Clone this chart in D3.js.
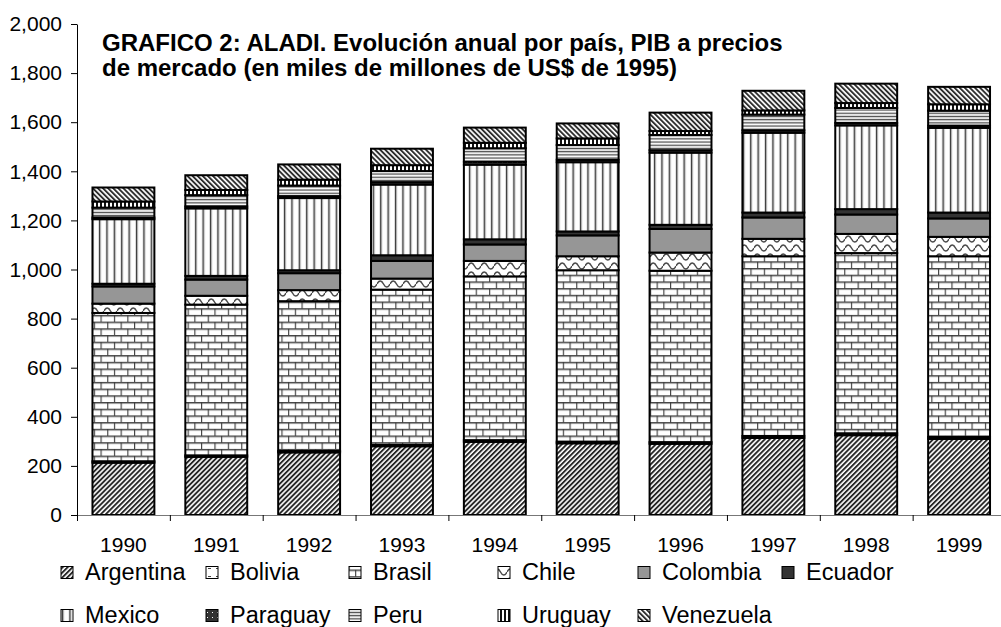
<!DOCTYPE html>
<html><head><meta charset="utf-8">
<script src="https://cdn.jsdelivr.net/npm/d3@7"></script>
<style>
body{margin:0;background:#fff}
svg{display:block}
text{font-family:"Liberation Sans",Arial,sans-serif;fill:#000}
</style>
</head><body>
<svg id="c" width="1001" height="627"></svg>
<script>
// ---------- DATA (miles de millones de US$ de 1995) ----------
const years      = ["1990","1991","1992","1993","1994","1995","1996","1997","1998","1999"];
const argentina  = [213, 237, 255, 280, 298, 292, 290, 314, 325, 310];
const bolivia    = [6, 6, 6, 6, 7, 7, 7, 8, 8, 8];
const brasil     = [604, 614, 610, 632, 667, 698, 698, 732, 734, 736];
const chile      = [38, 36, 45, 45, 63, 57, 74, 71, 78, 79];
const colombia   = [70, 66, 69, 72, 67, 85, 96, 87, 79, 75];
const ecuador    = [11, 15, 12, 23, 21, 16, 17, 20, 22, 24];
const mexico     = [263, 275, 294, 288, 304, 282, 294, 325, 341, 345];
const paraguay   = [7, 8, 8, 10, 12, 10, 10, 10, 10, 9];
const peru       = [40, 46, 43, 45, 55, 60, 62, 64, 61, 61];
const uruguay    = [25, 21, 24, 24, 22, 27, 16, 17, 20, 26];
const venezuela  = [57, 60, 62, 67, 62, 61, 75, 80, 79, 71];
const seriesNames = ["Argentina","Bolivia","Brasil","Chile","Colombia","Ecuador","Mexico","Paraguay","Peru","Uruguay","Venezuela"];
const seriesValues = [argentina, bolivia, brasil, chile, colombia, ecuador, mexico, paraguay, peru, uruguay, venezuela];
const yTicks = [0,200,400,600,800,1000,1200,1400,1600,1800,2000];
const titleLines = ["GRAFICO 2: ALADI. Evolución anual por país, PIB a precios",
                    "de mercado (en miles de millones de US$ de 1995)"];

// ---------- LAYOUT ----------
const svg = d3.select("#c");
const X0 = 77, X1 = 1005.5, Y0 = 515, Y1 = 24;
const x = d3.scaleBand().domain(years).range([X0, X1]).paddingInner(1/3).paddingOuter(1/6);
const y = d3.scaleLinear().domain([0, 2000]).range([Y0, Y1]);

// ---------- PATTERNS ----------
const defs = svg.append("defs");
function pat(id, w, h, transform) {
  const p = defs.append("pattern").attr("id", id)
    .attr("patternUnits", "userSpaceOnUse").attr("width", w).attr("height", h);
  if (transform) p.attr("patternTransform", transform);
  return p;
}
// Argentina: "/" hatch
{ const p = pat("p0", 3.5, 10, "rotate(45)");
  p.append("rect").attr("width",3.5).attr("height",10).attr("fill","#fff");
  p.append("rect").attr("width",1.9).attr("height",10).attr("fill","#262626"); }
// Bolivia: white with sparse marks
{ const p = pat("p1", 8, 8);
  p.append("rect").attr("width",8).attr("height",8).attr("fill","#fff");
  p.append("rect").attr("x",0).attr("y",0).attr("width",3).attr("height",1).attr("fill","#444"); }
// Brasil: bricks
{ const w = 13.4, h = 13.4, p = pat("p2", w, h);
  p.append("rect").attr("width",w).attr("height",h).attr("fill","#fff");
  const g = p.append("g").attr("fill","none");
  const mortar = (x1,y1,x2,y2) => {
    g.append("line").attr("x1",x1).attr("x2",x2).attr("y1",y1).attr("y2",y2).attr("stroke","#3a3a3a").attr("stroke-width",1.1);
  };
  g.append("rect").attr("x",0).attr("y",1.2).attr("width",w).attr("height",0.8).attr("fill","#999");
  g.append("rect").attr("x",0).attr("y",h/2+1.2).attr("width",w).attr("height",0.8).attr("fill","#999");
  mortar(0,0.6,w,0.6);
  mortar(0,h/2+0.6,w,h/2+0.6);
  mortar(0.6,0,0.6,h/2);
  mortar(w/2+0.6,h/2,w/2+0.6,h); }
// Chile: waves
{ const p = pat("p3", 13, 9);
  p.append("rect").attr("width",13).attr("height",9).attr("fill","#fff");
  p.append("path").attr("d","M0,5 C2,1 4.5,1 6.5,5 S11,9 13,5")
   .attr("fill","none").attr("stroke","#4a4a4a").attr("stroke-width",1.5); }
// Colombia: solid gray
{ const p = pat("p4", 4, 4);
  p.append("rect").attr("width",4).attr("height",4).attr("fill","#969696"); }
// Ecuador: dark
{ const p = pat("p5", 4, 4);
  p.append("rect").attr("width",4).attr("height",4).attr("fill","#333"); }
// Mexico: vertical stripes
{ const p = pat("p6", 7.4, 10);
  p.append("rect").attr("width",7.4).attr("height",10).attr("fill","#fff");
  p.append("rect").attr("x",2.6).attr("width",1.2).attr("height",10).attr("fill","#3a3a3a");
  p.append("rect").attr("x",3.8).attr("width",1.0).attr("height",10).attr("fill","#a0a0a0"); }
// Paraguay: dark with white dots
{ const p = pat("p7", 5, 5);
  p.append("rect").attr("width",5).attr("height",5).attr("fill","#333");
  p.append("rect").attr("x",2).attr("y",2).attr("width",1).attr("height",1).attr("fill","#fff"); }
// Peru: horizontal lines
{ const p = pat("p8", 10, 3.2);
  p.append("rect").attr("width",10).attr("height",3.2).attr("fill","#fff");
  p.append("rect").attr("y",0.6).attr("width",10).attr("height",1.1).attr("fill","#4a4a4a");
  p.append("rect").attr("y",1.7).attr("width",10).attr("height",0.6).attr("fill","#aaa"); }
// Uruguay: thick vertical bars
{ const p = pat("p9", 4, 10);
  p.append("rect").attr("width",4).attr("height",10).attr("fill","#fff");
  p.append("rect").attr("width",2).attr("height",10).attr("fill","#111"); }
// Venezuela: "\" hatch
{ const p = pat("p10", 3.6, 10, "rotate(-45)");
  p.append("rect").attr("width",3.6).attr("height",10).attr("fill","#fff");
  p.append("rect").attr("width",1.9).attr("height",10).attr("fill","#2e2e2e"); }

// ---------- STACK ----------
const rows = years.map((yr, i) => {
  const o = {year: yr};
  seriesNames.forEach((n, k) => o[n] = seriesValues[k][i]);
  return o;
});
const stacked = d3.stack().keys(seriesNames)(rows);

const gBars = svg.append("g");
stacked.forEach((layer, k) => {
  gBars.append("g").attr("fill", `url(#p${k})`).attr("stroke","#000").attr("stroke-width",2)
    .selectAll("rect").data(layer).join("rect")
    .attr("x", d => x(d.data.year))
    .attr("width", x.bandwidth())
    .attr("y", d => y(d[1]))
    .attr("height", d => y(d[0]) - y(d[1]));
});

// ---------- AXES ----------
const yAxis = svg.append("g").attr("transform", `translate(${X0},0)`)
  .call(d3.axisLeft(y).tickValues(yTicks).tickFormat(d3.format(",")).tickSize(6).tickSizeOuter(0).tickPadding(9));
yAxis.selectAll("text").attr("font-size", 21).attr("font-family", '"Liberation Sans",Arial,sans-serif');
yAxis.select(".domain").attr("stroke","#000");
yAxis.selectAll(".tick line").attr("stroke","#000");

const xEdge = d3.scaleLinear().domain([0, years.length]).range([X0, X1]);
const xTicksAxis = svg.append("g").attr("transform", `translate(0,${Y0})`)
  .call(d3.axisBottom(xEdge).ticks(years.length).tickFormat("").tickSize(6).tickSizeOuter(0));
xTicksAxis.select(".domain").attr("stroke","#777");
xTicksAxis.selectAll(".tick line").attr("stroke","#000");

const xLabels = svg.append("g").attr("transform", `translate(0,${Y0})`)
  .call(d3.axisBottom(x).tickSize(0).tickPadding(21.7));
xLabels.select(".domain").remove();
xLabels.selectAll("text").attr("font-size", 21).attr("font-family", '"Liberation Sans",Arial,sans-serif');

// ---------- TITLE ----------
svg.append("g").selectAll("text").data(titleLines).join("text")
  .attr("x", 102).attr("y", (d, i) => 50.5 + i * 25)
  .attr("font-size", 24).attr("font-weight", "bold")
  .text(d => d);

// ---------- LEGEND ----------
const legTextX = [85, 230, 373, 522, 662, 806];
const legRows = [580, 623];
const legend = svg.append("g");
seriesNames.forEach((n, k) => {
  const r = k < 6 ? 0 : 1, c = k < 6 ? k : k - 6;
  const tx = legTextX[c], by = legRows[r];
  legend.append("rect").attr("x", tx - 24).attr("y", by - 13.5).attr("width", 12).attr("height", 12)
    .attr("fill", `url(#p${k})`).attr("stroke", "#000").attr("stroke-width", 1);
  legend.append("text").attr("x", tx).attr("y", by).attr("font-size", 23.5).text(n);
});
</script>
</body></html>
